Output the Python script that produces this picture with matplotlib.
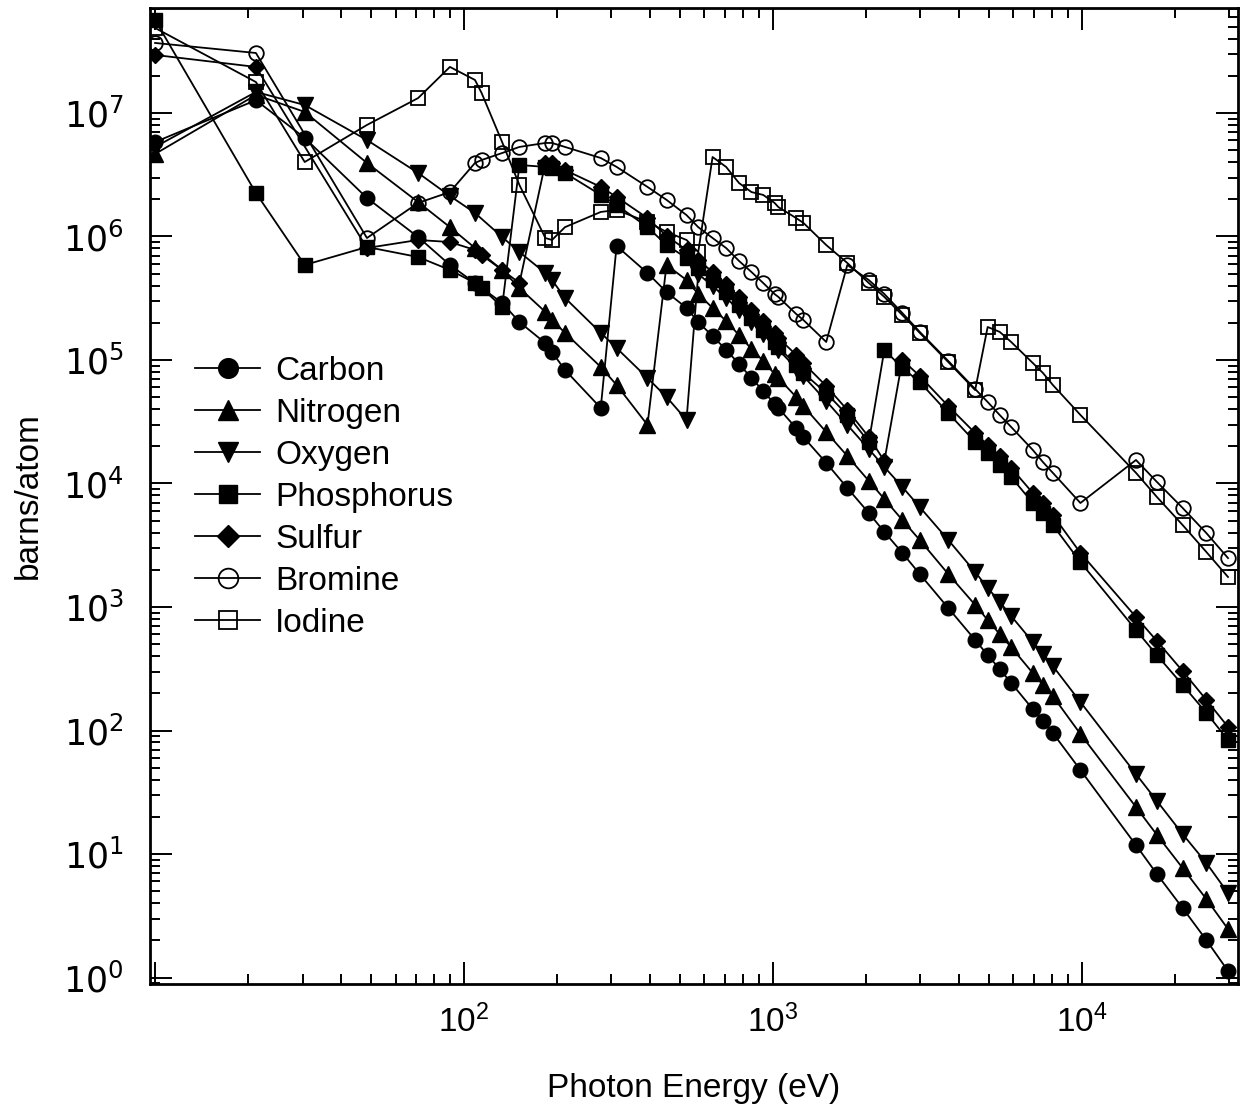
import math
import matplotlib
matplotlib.use("Agg")
import matplotlib.pyplot as plt
from matplotlib.ticker import LogLocator, FixedLocator, FuncFormatter, NullFormatter

# photon energies (eV) and photoabsorption cross sections (barns/atom)
carbon_e = [10, 21.2, 30.5, 48.5, 71, 90, 108.5, 132.8, 151.1, 183.3, 192.6, 212.2, 277,
            311.7, 392.4, 452.2, 524.9, 572.8, 637.4, 705, 776.2, 851.5, 929.7, 1011.7, 1041,
            1188, 1253.6, 1486.7, 1740, 2042.4, 2293.2, 2622.4, 2984.3, 3691.7, 4510.8, 4952.2,
            5414.7, 5898.8, 6930.3, 7478.2, 8047.8, 9886.4, 14958, 17479, 21177, 25271, 29700]
carbon_s = [5.82e6, 1.27e7, 6.28e6, 2.05e6, 9.9e5, 5.88e5, 4.20e5, 2.90e5, 2.03e5, 1.37e5, 1.16e5, 8.3e4, 4.09e4,
            8.38e5, 5.06e5, 3.55e5, 2.64e5, 2.03e5, 1.56e5, 1.21e5, 9.29e4, 7.15e4, 5.61e4, 4.40e4, 4.09e4,
            2.81e4, 2.38e4, 1.47e4, 9.2e3, 5.77e3, 4.05e3, 2.74e3, 1.85e3, 982, 541, 408,
            315, 243, 149, 119, 95.5, 47.9, 11.8, 6.89, 3.65, 2.01, 1.13]

nitrogen_e = [10, 21.2, 30.5, 48.5, 71, 90, 108.5, 132.8, 151.1, 183.3, 192.6, 212.2, 277, 311.7, 392.4,
              452.2, 524.9, 572.8, 637.4, 705, 776.2, 851.5, 929.7, 1011.7, 1041, 1188, 1253.6, 1486.7,
              1740, 2042.4, 2293.2, 2622.4, 2984.3, 3691.7, 4510.8, 4952.2, 5414.7, 5898.8, 6930.3,
              7478.2, 8047.8, 9886.4, 14958, 17479, 21177, 25271, 29700]
nitrogen_s = [4.66e6, 1.40e7, 1.02e7, 3.94e6, 1.90e6, 1.19e6, 8.07e5, 5.36e5, 3.83e5, 2.45e5, 2.11e5, 1.66e5, 8.78e4, 6.28e4, 2.98e4,
              5.88e5, 4.44e5, 3.42e5, 2.64e5, 2.07e5, 1.59e5, 1.23e5, 9.82e4, 7.71e4, 7.15e4, 5.02e4, 4.24e4, 2.61e4,
              1.67e4, 1.05e4, 7.49e3, 5.06e3, 3.49e3, 1.85e3, 1.04e3, 785, 604, 474, 292,
              234, 190, 93.7, 24.0, 14.3, 7.70, 4.32, 2.47]

oxygen_e = [10, 21.2, 30.5, 48.5, 71, 90, 108.5, 132.8, 151.1, 183.3, 192.6, 212.2, 277, 311.7, 392.4, 452.2, 524.9,
            572.8, 637.4, 705, 776.2, 851.5, 929.7, 1011.7, 1041, 1188, 1253.6, 1486.7, 1740, 2042.4,
            2293.2, 2622.4, 2984.3, 3691.7, 4510.8, 4952.2, 5414.7, 5898.8, 6930.3, 7478.2, 8047.8,
            9886.4, 14958, 17479, 21177, 25271, 29700]
oxygen_s = [5.31e6, 1.48e7, 1.16e7, 6.04e6, 3.27e6, 2.13e6, 1.55e6, 9.91e5, 7.48e5, 5.06e5, 4.44e5, 3.18e5, 1.66e5, 1.25e5, 7.15e4, 5.02e4, 3.27e4,
            4.97e5, 3.97e5, 3.18e5, 2.54e5, 2.03e5, 1.62e5, 1.30e5, 1.21e5, 8.61e4, 7.42e4, 4.66e4, 2.98e4, 1.90e4,
            1.36e4, 9.37e3, 6.45e3, 3.49e3, 1.92e3, 1.43e3, 1.10e3, 846, 521, 416, 333,
            170, 44.4, 26.9, 14.5, 8.46, 4.83]

phosphorus_e = [10, 21.2, 30.5, 48.5, 71, 90, 108.5, 114, 132.8,
                151.1, 183.3, 192.6, 212.2, 277, 311.7, 392.4, 452.2, 524.9, 572.8, 637.4, 705, 776.2,
                851.5, 929.7, 1011.7, 1041, 1188, 1253.6, 1486.7, 1740, 2042.4,
                2293.2, 2622.4, 2984.3, 3691.7, 4510.8, 4952.2, 5414.7, 5898.8, 6930.3, 7478.2, 8047.8,
                9886.4, 14958, 17479, 21177, 25271, 29700]
phosphorus_s = [5.66e7, 2.25e6, 5.88e5, 8.22e5, 6.82e5, 5.36e5, 4.20e5, 3.83e5, 2.69e5,
                3.79e6, 3.66e6, 3.59e6, 3.27e6, 2.17e6, 1.80e6, 1.19e6, 8.53e5, 6.70e5, 5.56e5, 4.44e5, 3.55e5, 2.79e5,
                2.19e5, 1.75e5, 1.40e5, 1.27e5, 9.12e4, 7.85e4, 5.41e4, 3.59e4, 2.17e4,
                1.21e5, 8.61e4, 6.64e4, 3.72e4, 2.17e4, 1.77e4, 1.41e4, 1.13e4, 6.95e3, 5.77e3, 4.61e3,
                2.31e3, 651, 408, 234, 139, 83.8]

sulfur_e = [10, 21.2, 48.5, 71, 90, 108.5, 114, 132.8, 151.1,
            183.3, 192.6, 212.2, 277, 311.7, 392.4, 452.2, 524.9, 572.8, 637.4, 705, 776.2, 851.5,
            929.7, 1011.7, 1041, 1188, 1253.6, 1486.7, 1740, 2042.4, 2293.2,
            2622.4, 2984.3, 3691.7, 4510.8, 4952.2, 5414.7, 5898.8, 6930.3, 7478.2, 8047.8, 9886.4,
            14958, 17479, 21177, 25271, 29700]
sulfur_s = [2.95e7, 2.36e7, 8.07e5, 9.37e5, 9.02e5, 7.78e5, 7.08e5, 5.36e5, 4.20e5,
            3.94e6, 3.94e6, 3.45e6, 2.52e6, 2.09e6, 1.41e6, 1.01e6, 7.78e5, 6.45e5, 5.16e5, 4.12e5, 3.24e5, 2.54e5,
            2.07e5, 1.66e5, 1.51e5, 1.10e5, 9.46e4, 6.16e4, 3.94e4, 2.38e4, 1.52e4,
            1.00e5, 7.42e4, 4.24e4, 2.56e4, 2.05e4, 1.67e4, 1.34e4, 8.38e3, 6.95e3, 5.56e3, 2.74e3,
            830, 531, 303, 177, 107]

bromine_e = [10, 21.2, 48.5, 71, 90, 108.5, 114, 132.8, 151.1, 183.3, 192.6, 212.2, 277, 311.7,
             392.4, 452.2, 524.9, 572.8, 637.4, 705, 776.2, 851.5, 929.7, 1011.7, 1041, 1188, 1253.6, 1486.7,
             1740, 2042.4, 2293.2, 2622.4, 2984.3, 3691.7, 4510.8, 4952.2, 5414.7, 5898.8, 6930.3,
             7478.2, 8047.8, 9886.4,
             14958, 17479, 21177, 25271, 29700]
bromine_s = [3.69e7, 3.06e7, 9.72e5, 1.87e6, 2.29e6, 3.94e6, 4.16e6, 4.74e6, 5.31e6, 5.72e6, 5.72e6, 5.31e6, 4.32e6, 3.66e6,
             2.52e6, 1.98e6, 1.49e6, 1.19e6, 9.72e5, 8.07e5, 6.34e5, 5.16e5, 4.20e5, 3.42e5, 3.24e5, 2.36e5, 2.11e5, 1.40e5,
             5.88e5, 4.44e5, 3.42e5, 2.40e5, 1.69e5, 9.82e4, 5.82e4, 4.57e4, 3.59e4, 2.87e4, 1.87e4,
             1.49e4, 1.22e4, 6.95e3,
             1.55e4, 1.03e4, 6.34e3, 3.97e3, 2.49e3]

iodine_e = [10, 21.2, 30.5, 48.5, 71, 90, 108.5, 114, 132.8, 151.1, 183.3, 192.6, 212.2, 277, 311.7,
            392.4, 452.2, 524.9, 572.8,
            637.4, 705, 776.2, 851.5, 929.7, 1011.7, 1041, 1188, 1253.6, 1486.7, 1740, 2042.4,
            2293.2, 2622.4, 2984.3, 3691.7, 4510.8,
            4952.2, 5414.7, 5898.8, 6930.3, 7478.2, 8047.8, 9886.4, 14958, 17479, 21177, 25271, 29700]
iodine_s = [4.88e7, 1.78e7, 4.01e6, 8.00e6, 1.32e7, 2.36e7, 1.85e7, 1.45e7, 5.82e6, 2.61e6, 9.72e5, 9.37e5, 1.19e6, 1.58e6, 1.64e6,
            1.31e6, 1.09e6, 9.37e5, 7.48e5,
            4.40e6, 3.66e6, 2.71e6, 2.29e6, 2.17e6, 1.87e6, 1.73e6, 1.41e6, 1.29e6, 8.53e5, 6.10e5, 4.20e5,
            3.24e5, 2.31e5, 1.66e5, 9.63e4, 5.71e4,
            1.85e5, 1.69e5, 1.40e5, 9.46e4, 7.85e4, 6.28e4, 3.59e4, 1.22e4, 7.78e3, 4.61e3, 2.79e3, 1.75e3]

x_major = [10, 100, 1000, 10000]
y_major = [1, 10, 100, 1e3, 1e4, 1e5, 1e6, 1e7]

fig = plt.figure(figsize=(12.41, 11.11), dpi=100)
ax = fig.add_axes([0.1209, 0.1143, 0.8767, 0.8785])

lw = 1.3
ax.plot(carbon_e, carbon_s, "k-", marker="o", ms=10.5, lw=lw, label="Carbon")
ax.plot(nitrogen_e, nitrogen_s, "k-", marker="^", ms=11, lw=lw, label="Nitrogen")
ax.plot(oxygen_e, oxygen_s, "k-", marker="v", ms=11, lw=lw, label="Oxygen")
ax.plot(phosphorus_e, phosphorus_s, "k-", marker="s", ms=10, lw=lw, label="Phosphorus")
ax.plot(sulfur_e, sulfur_s, "k-", marker="D", ms=8.5, lw=lw, label="Sulfur")
ax.plot(bromine_e, bromine_s, "k-", marker="o", ms=10.5, mfc="none", mew=1.3, lw=lw, label="Bromine")
ax.plot(iodine_e, iodine_s, "k-", marker="s", ms=10, mfc="none", mew=1.3, lw=lw, label="Iodine")

ax.set_xscale("log")
ax.set_yscale("log")
ax.set_xlim(9.63, 32000)
ax.set_ylim(0.886, 7.08e7)

ax.xaxis.set_major_locator(FixedLocator(x_major))
ax.yaxis.set_major_locator(FixedLocator(y_major))
ax.xaxis.set_minor_locator(LogLocator(base=10, subs=range(2, 10), numticks=100))
ax.yaxis.set_minor_locator(LogLocator(base=10, subs=range(2, 10), numticks=100))
ax.xaxis.set_minor_formatter(NullFormatter())
ax.yaxis.set_minor_formatter(NullFormatter())


def sci_x(v, pos):
    if v < 50:
        return ""   # the 10 eV tick has no label
    return r"$\mathregular{10^{%d}}$" % round(math.log10(v))


def sci_y(v, pos):
    return r"$\mathregular{10^{%d}}$" % round(math.log10(v))


ax.xaxis.set_major_formatter(FuncFormatter(sci_x))
ax.yaxis.set_major_formatter(FuncFormatter(sci_y))

ax.tick_params(which="both", direction="in", top=True, right=True, width=1.4)
ax.tick_params(which="major", length=16)
ax.tick_params(which="minor", length=7)
ax.tick_params(axis="x", pad=15)
ax.tick_params(axis="y", pad=19)
for lab in ax.get_xticklabels():
    lab.set_fontfamily("Liberation Sans")
    lab.set_fontsize(24)
for lab in ax.get_yticklabels():
    lab.set_fontfamily("DejaVu Sans")
    lab.set_fontsize(25)
for sp in ax.spines.values():
    sp.set_linewidth(2)

ax.set_xlabel("Photon Energy (eV)", fontsize=24, family="Liberation Sans", labelpad=24)
ax.set_ylabel("barns/atom", fontsize=24, family="Liberation Sans", labelpad=14)

ax.legend(loc="upper left", bbox_to_anchor=(0.0414, 0.6434), frameon=False,
          prop={"family": "Liberation Sans", "size": 24}, handlelength=1.95,
          handletextpad=0.45, labelspacing=0.33, borderpad=0, borderaxespad=0,
          markerscale=1.35)

fig.savefig("out.png", dpi=100)
